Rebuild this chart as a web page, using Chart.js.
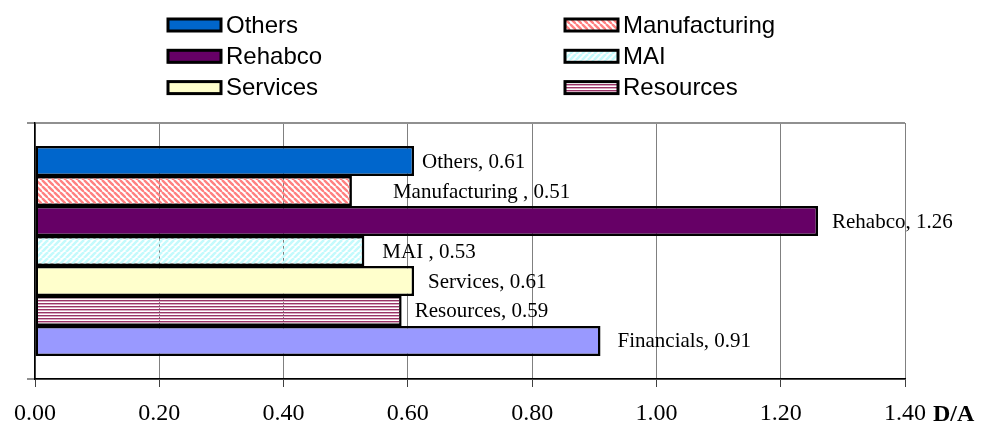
<!DOCTYPE html>
<html lang="en">
<head>
    <meta charset="UTF-8">
    <title>D/A by Sector</title>
    <script src="https://cdn.jsdelivr.net/npm/chart.js@4/dist/chart.umd.min.js"></script>
    <style>
        body {
            margin: 0;
            background: #ffffff;
        }
        #chartContainer {
            position: relative;
            width: 982px;
            height: 432px;
        }
    </style>
</head>
<body>
    <div id="chartContainer">
        <canvas id="daChart"></canvas>
    </div>

    <script>
        // Sector names (some carry a trailing space, as in the source sheet)
        const sectors = ['Others', 'Manufacturing ', 'Rehabco', 'MAI ', 'Services', 'Resources', 'Financials'];
        // Debt to assets ratio per sector
        const daValues = [0.61, 0.51, 1.26, 0.53, 0.61, 0.59, 0.91];
        // X axis range and tick step
        const xMin = 0;
        const xMax = 1.4;
        const xStep = 0.2;

        // Horizontal gap between each bar end and its value label (px)
        const labelOffsets = [8, 41, 14, 18, 14, 13, 17];
        // Sectors shown in the legend box
        const legendCount = 6;

        // Small tiles used as hatch fills
        function makePattern(size, draw) {
            const c = document.createElement('canvas');
            c.width = size[0];
            c.height = size[1];
            const g = c.getContext('2d');
            draw(g, size[0], size[1]);
            return document.createElement('canvas').getContext('2d').createPattern(c, 'repeat');
        }

        const downDiagonal = makePattern([6, 6], function(g, w, h) {
            g.strokeStyle = '#ff8080';
            g.lineWidth = 2.4;
            for (let k = -1; k <= 1; k++) {
                g.beginPath();
                g.moveTo(k * w, 0);
                g.lineTo(k * w + w, h);
                g.stroke();
            }
        });

        const upDiagonal = makePattern([6, 6], function(g, w, h) {
            g.strokeStyle = '#c4fafc';
            g.lineWidth = 2.6;
            for (let k = -1; k <= 1; k++) {
                g.beginPath();
                g.moveTo(k * w, h);
                g.lineTo(k * w + w, 0);
                g.stroke();
            }
        });

        const narrowHorizontal = makePattern([4, 3], function(g, w, h) {
            g.fillStyle = '#993366';
            g.fillRect(0, 0, w, 1);
            g.fillStyle = '#d8a9c0';
            g.fillRect(0, 1, w, 1);
        });

        const fills = ['#0066cc', downDiagonal, '#660066', upDiagonal, '#ffffcc', narrowHorizontal, '#9999ff'];

        const datasets = sectors.map(function(name, i) {
            return {
                label: name,
                data: [daValues[i]],
                backgroundColor: fills[i],
                borderColor: '#000000',
                borderWidth: 2.5,
                borderSkipped: false,
                categoryPercentage: 0.82,
                barPercentage: 1.0
            };
        });

        // Value labels next to each bar, e.g. "Others, 0.61"
        const valueLabels = {
            id: 'valueLabels',
            afterDatasetsDraw(chart) {
                const ctx = chart.ctx;
                ctx.save();
                ctx.font = '21px "Liberation Serif", "Times New Roman", serif';
                ctx.fillStyle = '#000000';
                ctx.textAlign = 'left';
                ctx.textBaseline = 'middle';
                chart.data.datasets.forEach(function(ds, i) {
                    const bar = chart.getDatasetMeta(i).data[0];
                    const text = ds.label + ', ' + ds.data[0].toFixed(2);
                    ctx.fillText(text, bar.x + labelOffsets[i], bar.y + 1);
                });
                ctx.restore();
            }
        };

        // Two column legend above the plot
        const sectorLegend = {
            id: 'sectorLegend',
            afterDraw(chart) {
                const ctx = chart.ctx;
                ctx.save();
                ctx.font = '24px "Liberation Sans", Arial, sans-serif';
                ctx.textBaseline = 'middle';
                ctx.textAlign = 'left';
                for (let i = 0; i < legendCount; i++) {
                    const ds = chart.data.datasets[i];
                    const col = i % 2;
                    const row = Math.floor(i / 2);
                    const bx = col === 0 ? 168 : 565;
                    const cy = 25 + row * 31.3;
                    ctx.fillStyle = '#ffffff';
                    ctx.fillRect(bx, cy - 7, 53, 14);
                    ctx.fillStyle = ds.backgroundColor;
                    ctx.fillRect(bx, cy - 7, 53, 14);
                    ctx.strokeStyle = '#000000';
                    ctx.lineWidth = 3;
                    ctx.strokeRect(bx, cy - 6, 53, 12);
                    ctx.fillStyle = '#000000';
                    ctx.fillText(ds.label.trim(), bx + 58, cy + 1);
                }
                ctx.restore();
            }
        };

        // Axis caption placed after the last tick label
        const axisCaption = {
            id: 'axisCaption',
            afterDraw(chart) {
                const ctx = chart.ctx;
                const x = chart.scales.x;
                ctx.save();
                ctx.font = 'bold 24px "Liberation Serif", "Times New Roman", serif';
                ctx.fillStyle = '#000000';
                ctx.textAlign = 'left';
                ctx.textBaseline = 'middle';
                ctx.fillText('D/A', x.right + 28, 415);
                ctx.restore();
            }
        };

        const ctx = document.getElementById('daChart').getContext('2d');
        new Chart(ctx, {
            type: 'bar',
            data: {
                labels: [''],
                datasets: datasets
            },
            options: {
                indexAxis: 'y',
                responsive: true,
                maintainAspectRatio: false,
                animation: false,
                layout: {
                    padding: { top: 123, right: 77, left: 0, bottom: 0 }
                },
                plugins: {
                    legend: { display: false },
                    tooltip: { enabled: false }
                },
                scales: {
                    x: {
                        min: xMin,
                        max: xMax,
                        ticks: {
                            stepSize: xStep,
                            color: '#000000',
                            padding: 12,
                            maxRotation: 0,
                            font: { family: '"Liberation Serif", "Times New Roman", serif', size: 24 },
                            callback: function(v) { return Number(v).toFixed(2); }
                        },
                        grid: {
                            color: '#808080',
                            lineWidth: 1,
                            tickLength: 8,
                            tickColor: '#404040'
                        },
                        border: { color: '#000000', width: 1.5 },
                        afterFit: function(scale) { scale.height = 53; }
                    },
                    y: {
                        offset: true,
                        ticks: { display: false },
                        grid: {
                            offset: true,
                            color: '#909090',
                            lineWidth: 2,
                            tickLength: 8
                        },
                        border: { color: '#000000', width: 1.5 },
                        afterFit: function(scale) { scale.width = 35; }
                    }
                }
            },
            plugins: [valueLabels, sectorLegend, axisCaption]
        });
    </script>
</body>
</html>
